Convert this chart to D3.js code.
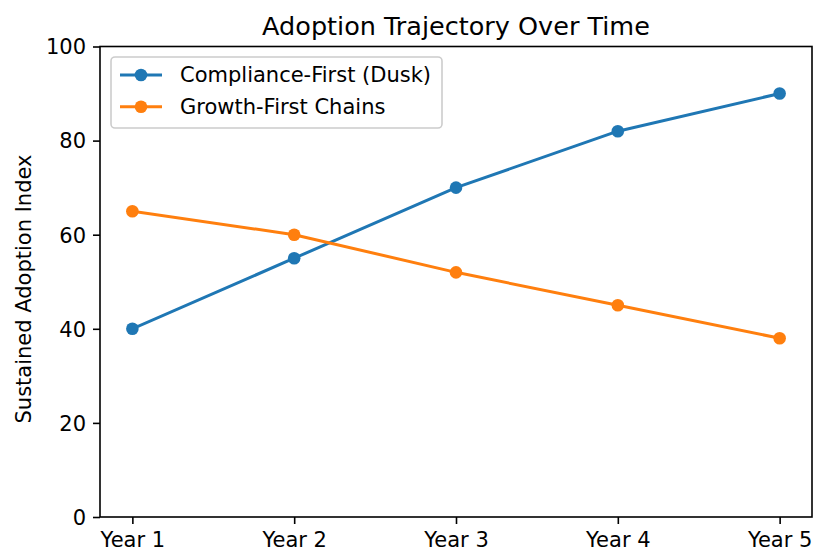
<!DOCTYPE html>
<html><head><meta charset="utf-8">
<script src="https://cdn.jsdelivr.net/npm/d3@7"></script>
<style>body{margin:0;background:#fff}svg{display:block}text{font-family:"DejaVu Sans",sans-serif;fill:#000}</style>
</head><body>
<script>
const categories = ["Year 1","Year 2","Year 3","Year 4","Year 5"];
const duskValues = [40,55,70,82,90];
const growthValues = [65,60,52,45,38];
const yTicks = [0,20,40,60,80,100];
const seriesNames = ["Compliance-First (Dusk)","Growth-First Chains"];
const seriesColors = ["#1f77b4","#ff7f0e"];

const W=828,H=558;
const m={left:100,right:812,top:46.5,bottom:517};
const svg=d3.select("body").append("svg").attr("width",W).attr("height",H);

// matplotlib-like 5% margins
const xi=d3.scaleLinear().domain([-0.2,categories.length-1+0.2]).range([m.left,m.right]);
const y=d3.scaleLinear().domain([0,100]).range([m.bottom,m.top]);

const fs=21;
const xAxis=svg.append("g").attr("transform",`translate(0,${m.bottom})`)
  .call(d3.axisBottom(xi).tickValues(d3.range(categories.length)).tickFormat(i=>categories[i]).tickSize(7).tickPadding(7));
const yAxis=svg.append("g").attr("transform",`translate(${m.left},0)`)
  .call(d3.axisLeft(y).tickValues(yTicks).tickSize(7).tickPadding(7));
[xAxis,yAxis].forEach(g=>{
  g.select(".domain").remove();
  g.attr("font-size",fs).attr("font-family","DejaVu Sans");
  g.selectAll(".tick line").attr("stroke","#000").attr("stroke-width",1.6);
  g.selectAll(".tick text").attr("font-size",fs).attr("fill","#000");
});
xAxis.selectAll(".tick text").attr("dy","0.75em");
yAxis.selectAll(".tick text").attr("dy","0.35em");

const series=[duskValues,growthValues];
const line=d3.line().x((d,i)=>xi(i)).y(d=>y(d));
series.forEach((vals,k)=>{
  svg.append("path").datum(vals).attr("d",line).attr("fill","none")
    .attr("stroke",seriesColors[k]).attr("stroke-width",3).attr("stroke-linejoin","round").attr("stroke-linecap","square");
  svg.selectAll(null).data(vals).enter().append("circle")
    .attr("cx",(d,i)=>xi(i)).attr("cy",d=>y(d)).attr("r",6.3).attr("fill",seriesColors[k]);
});

svg.append("rect").attr("x",m.left).attr("y",m.top).attr("width",m.right-m.left).attr("height",m.bottom-m.top)
  .attr("fill","none").attr("stroke","#000").attr("stroke-width",1.6);

svg.append("text").attr("x",(m.left+m.right)/2).attr("y",35).attr("text-anchor","middle").attr("font-size",25.5).text("Adoption Trajectory Over Time");
svg.append("text").attr("transform",`translate(31,${(148+430)/2}) rotate(-90)`).attr("text-anchor","middle").attr("font-size",fs).text("Sustained Adoption Index");

const lg=svg.append("g");
lg.append("rect").attr("x",111).attr("y",57).attr("width",331).attr("height",71).attr("rx",4)
  .attr("fill","#fff").attr("fill-opacity",0.8).attr("stroke","#cccccc").attr("stroke-width",1.6);
seriesNames.forEach((n,k)=>{
  const cy=75+k*31.7;
  lg.append("line").attr("x1",120).attr("x2",162).attr("y1",cy).attr("y2",cy).attr("stroke",seriesColors[k]).attr("stroke-width",3);
  lg.append("circle").attr("cx",141).attr("cy",cy).attr("r",6.3).attr("fill",seriesColors[k]);
  lg.append("text").attr("x",180).attr("y",cy).attr("dy","0.35em").attr("font-size",fs).text(n);
});
</script>
</body></html>
